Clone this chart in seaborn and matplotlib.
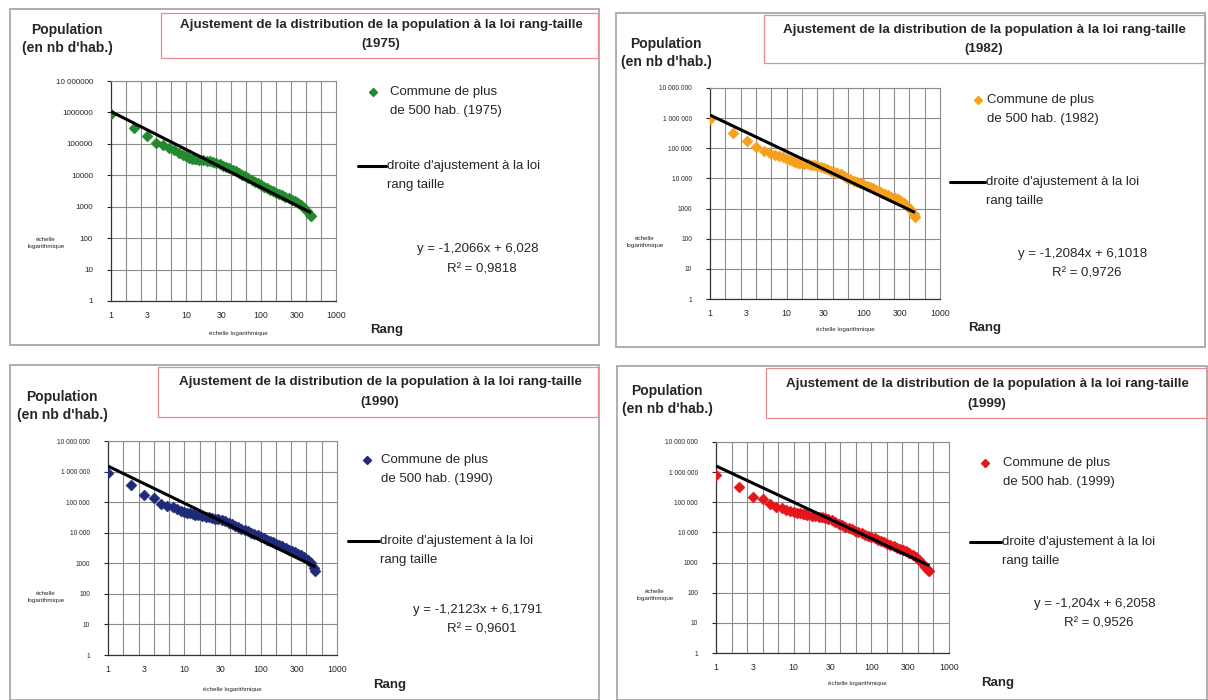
import numpy as np
import pandas as pd
import seaborn as sns
import matplotlib.pyplot as plt
from matplotlib.patches import Rectangle
from matplotlib.lines import Line2D
from matplotlib.ticker import FixedLocator, NullLocator

W, H = 1208, 700

# rank of each commune (log scale on the chart)
base_ranks = [1, 2, 3, 4, 5, 6, 7, 8, 9, 10,
              11, 12, 13, 14, 15, 17, 19, 21, 23, 25,
              28, 31, 34, 38, 42, 46, 51, 56, 62, 68,
              75, 83, 91, 100, 110, 121, 133, 146, 160, 176,
              193, 212, 233, 256, 281, 309, 340, 374, 411, 452]
ranks_1975 = base_ranks + [465]
ranks_1982 = base_ranks + [472]
ranks_1990 = base_ranks + [497, 520]
ranks_1999 = base_ranks + [497, 530, 560]

# population (nb d'habitants)
pop_1975 = [871000, 324000, 174000, 110000, 91200, 75900, 63100, 52500, 45700, 39800,
            36300, 33900, 33100, 32400, 31600, 30900, 29500, 28200, 26900, 25100,
            22400, 20400, 18600, 16600, 14800, 13500, 11700, 10500, 9330, 8130,
            7080, 6170, 5500, 4900, 4370, 3890, 3470, 3090, 2820, 2510,
            2290, 2090, 1860, 1660, 1480, 1290, 1100, 912, 724, 550,
            505]
pop_1982 = [933000, 331000, 174000, 112000, 83200, 67600, 60300, 55000, 50100, 44700,
            39800, 37200, 34700, 33100, 32400, 30900, 29500, 28200, 27500, 26300,
            24000, 22400, 20400, 18200, 16600, 15100, 13500, 12000, 10700, 9550,
            8510, 7590, 6920, 6310, 5750, 5130, 4680, 4270, 3800, 3390,
            3090, 2750, 2510, 2240, 2000, 1740, 1510, 1260, 933, 661,
            525]
pop_1990 = [891000, 355000, 170000, 132000, 85100, 75900, 69200, 60300, 52500, 47900,
            44700, 42700, 40700, 38900, 37200, 34700, 33100, 31600, 30200, 28800,
            27500, 25700, 23400, 20400, 18600, 17000, 15100, 13500, 12000, 11000,
            9770, 8910, 8130, 7410, 6610, 5890, 5250, 4790, 4270, 3890,
            3550, 3160, 2820, 2510, 2290, 2040, 1820, 1580, 1320, 1050,
            724, 550]
pop_1999 = [794000, 324000, 151000, 126000, 85100, 70800, 63100, 57500, 52500, 49000,
            45700, 42700, 40700, 39800, 38000, 36300, 34700, 33100, 31600, 29500,
            27500, 25100, 22400, 19100, 17000, 15500, 14100, 12900, 11500, 10500,
            9550, 8510, 7760, 7240, 6460, 5750, 5130, 4680, 4170, 3800,
            3470, 3160, 2820, 2570, 2340, 2040, 1780, 1510, 1260, 1000,
            724, 550, 510]

years = ['1975', '1982', '1990', '1999']
colors = ['#22892e', '#f5a11c', '#1f2a78', '#e3161c']
slopes = [-1.2066, -1.2084, -1.2123, -1.204]
intercepts = [6.028, 6.1018, 6.1791, 6.2058]
eq_labels = ['y = -1,2066x + 6,028', 'y = -1,2084x + 6,1018',
             'y = -1,2123x + 6,1791', 'y = -1,204x + 6,2058']
r2_labels = ['R² = 0,9818', 'R² = 0,9726', 'R² = 0,9601', 'R² = 0,9526']
x_tick_vals = [1, 3, 10, 30, 100, 300, 1000]
y_tick_vals = [1, 10, 100, 1000, 10000, 100000, 1000000, 10000000]
y_labels_a = ['1', '10', '100', '1000', '10000', '100000', '1000000', '10 000000']
y_labels_b = ['1', '10', '100', '1000', '10 000', '100 000', '1 000 000', '10 000 000']

ranks_all = [ranks_1975, ranks_1982, ranks_1990, ranks_1999]
pops_all = [pop_1975, pop_1982, pop_1990, pop_1999]

# pixel layout of each panel
layouts = [
    dict(box=(10, 9, 599, 345), plot=(111, 81, 336, 301), tbox=(161, 13, 598, 58),
         tline=(381, 25, 44), popl=(67, 30), leg=(373, 390, 92), legl=(358, 386, 166),
         eq=(478, 249), rang=(387, 330), xlog=(238, 333), ylog=(46, 243), ylab=y_labels_a,
         ysz=5.8),
    dict(box=(616, 13, 1205, 347), plot=(710, 88, 940, 299), tbox=(764, 15, 1205, 63),
         tline=(984, 30, 49), popl=(666, 44), leg=(978, 987, 100), legl=(950, 985, 182),
         eq=(1083, 254), rang=(985, 328), xlog=(845, 330), ylog=(645, 242), ylab=y_labels_b,
         ysz=4.8),
    dict(box=(10, 365, 599, 700), plot=(108, 441, 337, 655), tbox=(158, 367, 598, 417),
         tline=(380, 382, 402), popl=(62, 397), leg=(367, 381, 460), legl=(348, 379, 541),
         eq=(478, 610), rang=(390, 685), xlog=(232, 690), ylog=(46, 597), ylab=y_labels_b,
         ysz=4.8),
    dict(box=(617, 366, 1207, 700), plot=(716, 442, 949, 653), tbox=(766, 368, 1207, 418),
         tline=(987, 384, 404), popl=(667, 391), leg=(985, 1003, 463), legl=(970, 1001, 542),
         eq=(1095, 604), rang=(998, 683), xlog=(857, 683), ylog=(655, 595), ylab=y_labels_b,
         ysz=4.8),
]

sns.set_style('white')
plt.rcParams['font.family'] = ['Liberation Sans', 'DejaVu Sans']

fig = plt.figure(figsize=(W / 100, H / 100), dpi=100)


def fx(x):
    return x / W


def fy(y):
    return 1 - y / H


def frame(l, t, r, b, color, lw):
    fig.add_artist(Rectangle((fx(l), fy(b)), (r - l) / W, (b - t) / H, transform=fig.transFigure,
                             fill=False, edgecolor=color, lw=lw))


# vertical grid every 0.2 decade, as in the original spreadsheet chart
grid_x = [10 ** (0.2 * k) for k in range(1, 15)]
title_txt = 'Ajustement de la distribution de la population à la loi rang-taille'

for i, lay in enumerate(layouts):
    c = colors[i]
    frame(*lay['box'], '#a8a8a8', 1.3)
    frame(*lay['tbox'], '#e98b90', 0.9)

    l, t, r, b = lay['plot']
    ax = fig.add_axes([fx(l), fy(b), (r - l) / W, (b - t) / H])
    df = pd.DataFrame({'rang': ranks_all[i], 'pop': pops_all[i]})
    sns.scatterplot(data=df, x='rang', y='pop', marker='D', s=32, color=c,
                    edgecolor=c, linewidth=0.3, ax=ax, zorder=3)

    # fitted rank-size line (log10 pop = a * log10 rank + b)
    fit_x = np.array([1, ranks_all[i][-1]])
    fit_y = 10 ** (intercepts[i] + slopes[i] * np.log10(fit_x))
    ax.plot(fit_x, fit_y, color='black', lw=2.2, zorder=4, solid_capstyle='butt')

    ax.set_xscale('log')
    ax.set_yscale('log')
    ax.set_xlim(1, 1000)
    ax.set_ylim(1, 1e7)
    ax.set_xlabel('')
    ax.set_ylabel('')

    ax.xaxis.set_major_locator(FixedLocator(x_tick_vals))
    ax.xaxis.set_minor_locator(NullLocator())
    ax.set_xticklabels([str(v) for v in x_tick_vals])
    ax.tick_params(axis='x', which='major', length=0, pad=7, labelsize=6.3)
    ax.yaxis.set_major_locator(FixedLocator(y_tick_vals))
    ax.yaxis.set_minor_locator(NullLocator())
    ax.set_yticklabels(lay['ylab'])
    ax.tick_params(axis='y', which='major', length=3, width=0.8, pad=10,
                   labelsize=lay['ysz'], left=True, direction='out')

    ax.grid(False)
    for gx in grid_x:
        ax.axvline(gx, color='#8c8c8c', lw=0.8, zorder=1)
    ax.grid(which='major', axis='y', color='#8c8c8c', lw=0.8)
    for side in ['top', 'right']:
        ax.spines[side].set_color('#8c8c8c')
        ax.spines[side].set_linewidth(0.8)
    for side in ['left', 'bottom']:
        ax.spines[side].set_color('#333333')
        ax.spines[side].set_linewidth(0.9)

    # title box text
    tx, ty1, ty2 = lay['tline']
    fig.text(fx(tx), fy(ty1), title_txt, ha='center', va='center', fontsize=9.6,
             fontweight='bold')
    fig.text(fx(tx), fy(ty2), '(' + years[i] + ')', ha='center', va='center', fontsize=9.6,
             fontweight='bold')

    px, py = lay['popl']
    fig.text(fx(px), fy(py), 'Population', ha='center', va='center', fontsize=10,
             fontweight='bold')
    fig.text(fx(px), fy(py + 18), "(en nb d'hab.)", ha='center', va='center', fontsize=10,
             fontweight='bold')

    # legend
    mx, lx, ly = lay['leg']
    fig.add_artist(Line2D([fx(mx)], [fy(ly)], marker='D', markersize=4.2, color=c,
                          linestyle='none', transform=fig.transFigure))
    fig.text(fx(lx), fy(ly), 'Commune de plus', ha='left', va='center', fontsize=9.5)
    fig.text(fx(lx), fy(ly + 19), 'de 500 hab. (' + years[i] + ')', ha='left', va='center',
             fontsize=9.5)
    x0, x1, yl = lay['legl']
    fig.add_artist(Line2D([fx(x0), fx(x1)], [fy(yl), fy(yl)], color='black', lw=2.2,
                          transform=fig.transFigure))
    fig.text(fx(x1 + 1), fy(yl), "droite d'ajustement à la loi", ha='left', va='center',
             fontsize=9.5)
    fig.text(fx(x1 + 1), fy(yl + 19), 'rang taille', ha='left', va='center', fontsize=9.5)

    ex, ey = lay['eq']
    fig.text(fx(ex), fy(ey), eq_labels[i], ha='center', va='center', fontsize=9.5)
    fig.text(fx(ex + 4), fy(ey + 20), r2_labels[i], ha='center', va='center', fontsize=9.5)

    rx, ry = lay['rang']
    fig.text(fx(rx), fy(ry), 'Rang', ha='center', va='center', fontsize=9.5, fontweight='bold')

    xx, xy = lay['xlog']
    fig.text(fx(xx), fy(xy), 'échelle logarithmique', ha='center', va='center', fontsize=4.5)
    yx, yy = lay['ylog']
    fig.text(fx(yx), fy(yy), 'échelle\nlogarithmique', ha='center', va='center', fontsize=4.5,
             linespacing=1.6)

fig.savefig('out.png', dpi=100, facecolor='white')
